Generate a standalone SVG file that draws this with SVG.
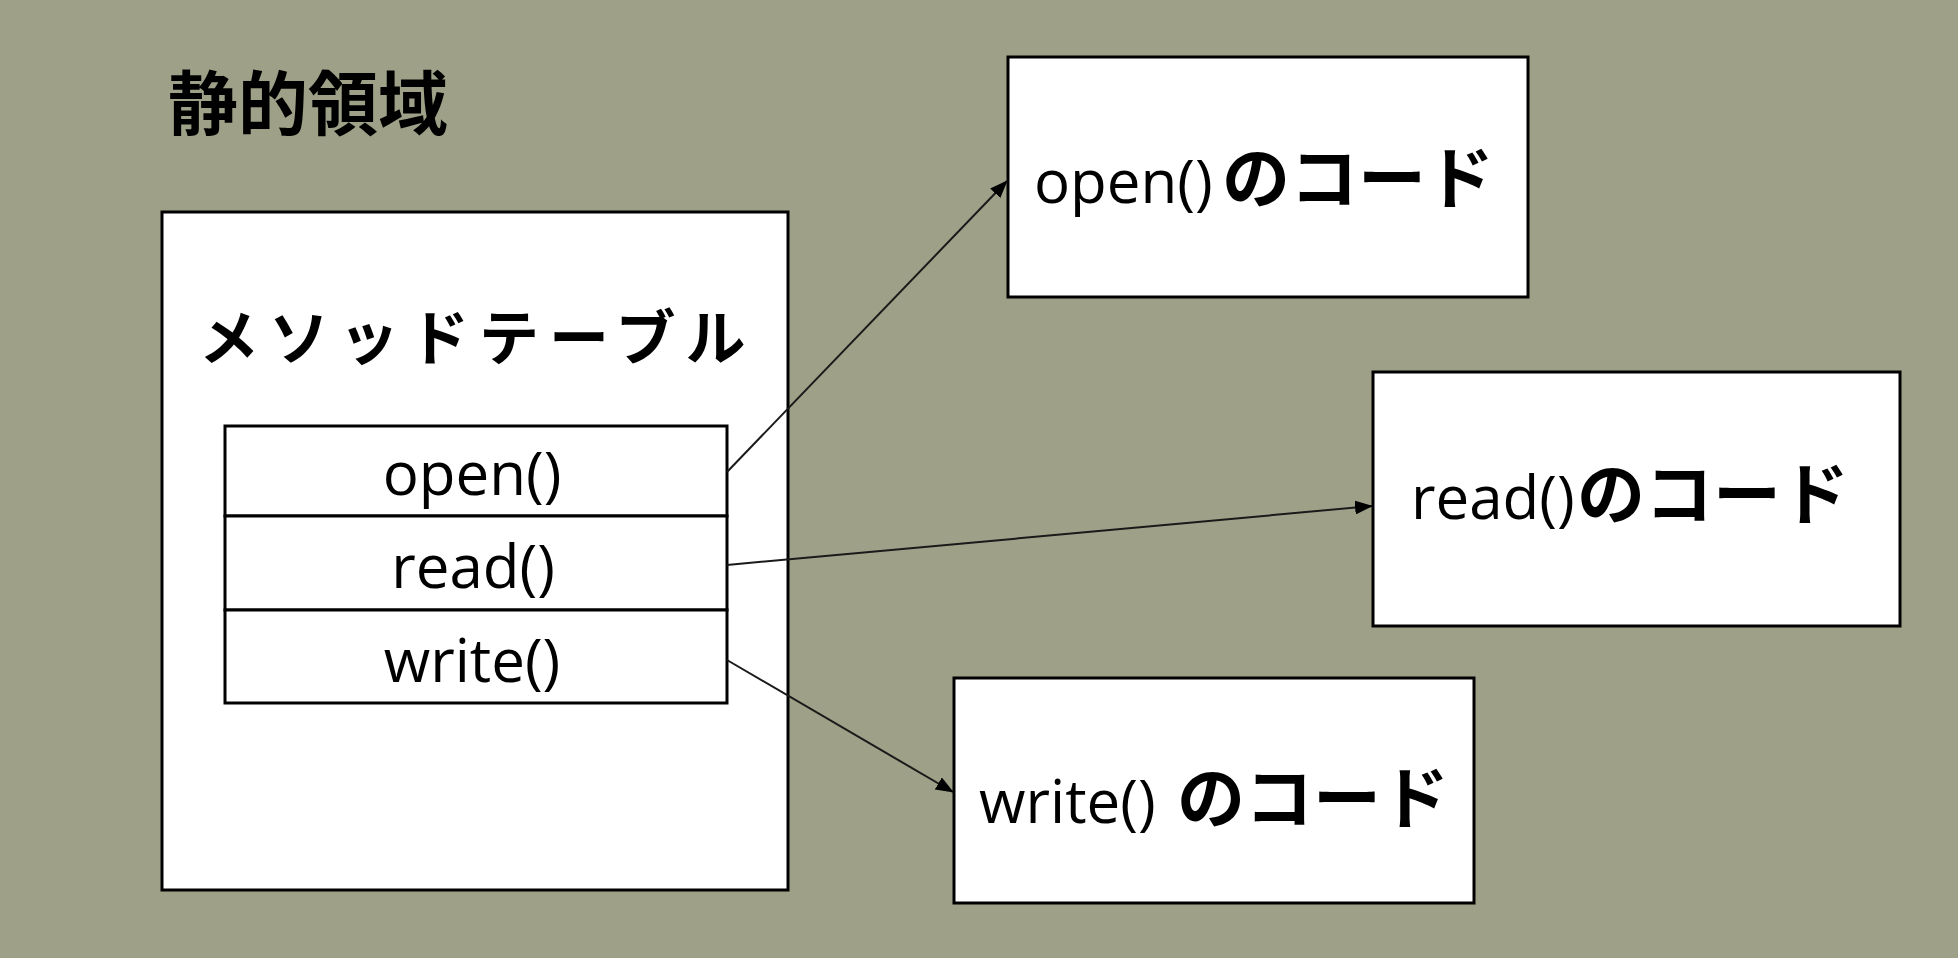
<svg xmlns="http://www.w3.org/2000/svg" width="1958" height="958" viewBox="0 0 1958 958">
<defs>
<style>
.box{fill:#fff;stroke:#000;stroke-width:3}
.lat{font-family:"Open Sans","Lato","Noto Sans CJK JP",sans-serif;font-size:60px;font-weight:500;fill:#000}
.jp{font-family:"Noto Sans CJK JP","Noto Sans",sans-serif;font-weight:bold;fill:#000}
.conn{stroke:#1a1a1a;stroke-width:2;fill:none;marker-end:url(#arr)}
</style>
<marker id="arr" markerUnits="userSpaceOnUse" markerWidth="18" markerHeight="14" refX="17" refY="7" orient="auto">
<path d="M0,0 L18,7 L0,14 z" fill="#000"/>
</marker>
</defs>
<rect x="0" y="0" width="1958" height="958" fill="#9ea187"/>
<g id="title">
<text class="jp" x="168" y="130" font-size="70">静的領域</text>
</g>
<g id="method-table">
<rect class="box" x="162" y="212" width="626" height="678"/>
<text class="jp" x="199" y="360" font-size="60" letter-spacing="10">メソッドテーブル</text>
<rect class="box" x="225" y="426" width="502" height="90"/>
<rect class="box" x="225" y="516" width="502" height="94"/>
<rect class="box" x="225" y="610" width="502" height="93"/>
<text class="lat" x="472" y="495" text-anchor="middle">open()</text>
<text class="lat" x="473" y="588" text-anchor="middle">read()</text>
<text class="lat" x="472" y="682" text-anchor="middle">write()</text>
</g>
<g id="open-code">
<rect class="box" x="1008" y="57" width="520" height="240"/>
<text class="lat" x="1034" y="203">open()<tspan class="jp" x="1222" font-size="68">のコード</tspan></text>
</g>
<g id="read-code">
<rect class="box" x="1373" y="372" width="527" height="254"/>
<text class="lat" x="1411" y="519">read()<tspan class="jp" x="1577" font-size="68">のコード</tspan></text>
</g>
<g id="write-code">
<rect class="box" x="954" y="678" width="520" height="225"/>
<text class="lat" x="979" y="823">write()<tspan class="jp" x="1177" font-size="68">のコード</tspan></text>
</g>
<g id="connectors">
<line class="conn" x1="727" y1="472" x2="1007" y2="181"/>
<line class="conn" x1="727" y1="565" x2="1372" y2="506"/>
<line class="conn" x1="727" y1="660" x2="953" y2="792"/>
</g>
</svg>
